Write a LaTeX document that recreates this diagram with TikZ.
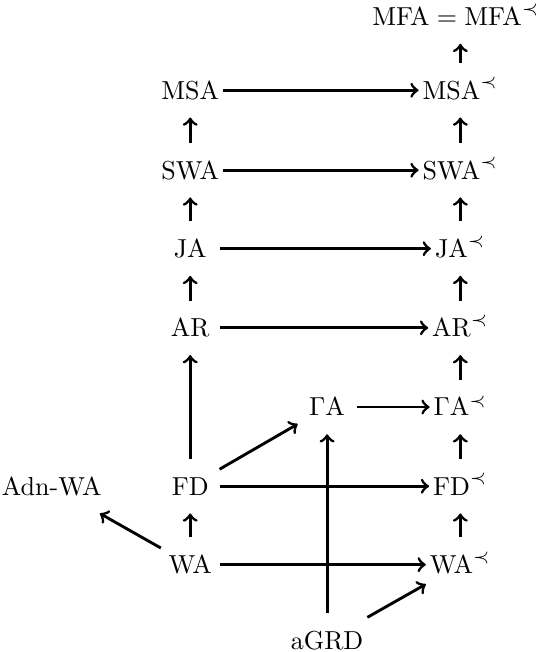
\documentclass[tikz,border=0pt]{standalone}
\begin{document}
\begin{tikzpicture}[line width=1.1pt,
		every node/.style={inner xsep=1pt, inner ysep=6.5pt, text height=6.83pt, text depth=0pt, minimum width=21.5pt}]
		\useasboundingbox (0,0) rectangle (7.46,8.81);
		\node (mfa) at (6.16, 8.585) {$\mathrm{MFA}=\mathrm{MFA}^{\prec}$};
		\node (msa) at (2.57, 7.59) {MSA};
		\node (msap) at (6.22, 7.59) {$\mathrm{MSA}^{\prec}$};
		\node (swa) at (2.57, 6.51) {SWA};
		\node (swap) at (6.22, 6.51) {$\mathrm{SWA}^{\prec}$};
		\node (ja) at (2.57, 5.45) {JA};
		\node (jap) at (6.22, 5.45) {$\mathrm{JA}^{\prec}$};
		\node (ar) at (2.57, 4.38) {AR};
		\node (arp) at (6.22, 4.38) {$\mathrm{AR}^{\prec}$};
		\node (ga) at (4.42, 3.31) {$\Gamma\mathrm{A}$};
		\node (gap) at (6.22, 3.31) {$\Gamma\mathrm{A}^{\prec}$};
		\node (adnwa) at (0.70, 2.24) {Adn-WA};
		\node (fd) at (2.57, 2.24) {FD};
		\node (fdp) at (6.22, 2.24) {$\mathrm{FD}^{\prec}$};
		\node (wa) at (2.57, 1.18) {WA};
		\node (wap) at (6.22, 1.18) {$\mathrm{WA}^{\prec}$};
		\node (agrd) at (4.42, 0.16) {aGRD};
		% left column
		\draw[->] (wa) -- (fd);
		\draw[->] (fd) -- (ar);
		\draw[->] (ar) -- (ja);
		\draw[->] (ja) -- (swa);
		\draw[->] (swa) -- (msa);
		% right column
		\draw[->] (wap) -- (fdp);
		\draw[->] (fdp) -- (gap);
		\draw[->] (gap) -- (arp);
		\draw[->] (arp) -- (jap);
		\draw[->] (jap) -- (swap);
		\draw[->] (swap) -- (msap);
		\draw[->] (msap) -- (mfa.south -| msap);
		% across
		\draw[->] (msa) -- (msap);
		\draw[->] (swa) -- (swap);
		\draw[->] (ja) -- (jap);
		\draw[->] (ar) -- (arp);
		\draw[->] (ga) -- (gap);
		\draw[->] (fd) -- (fdp);
		\draw[->] (wa) -- (wap);
		% diagonals
		\draw[->] (fd) -- (ga);
		\draw[->] (wa) -- (adnwa);
		\draw[->] (agrd) -- (ga);
		\draw[->] (agrd) -- (wap);
	\end{tikzpicture}
\end{document}
